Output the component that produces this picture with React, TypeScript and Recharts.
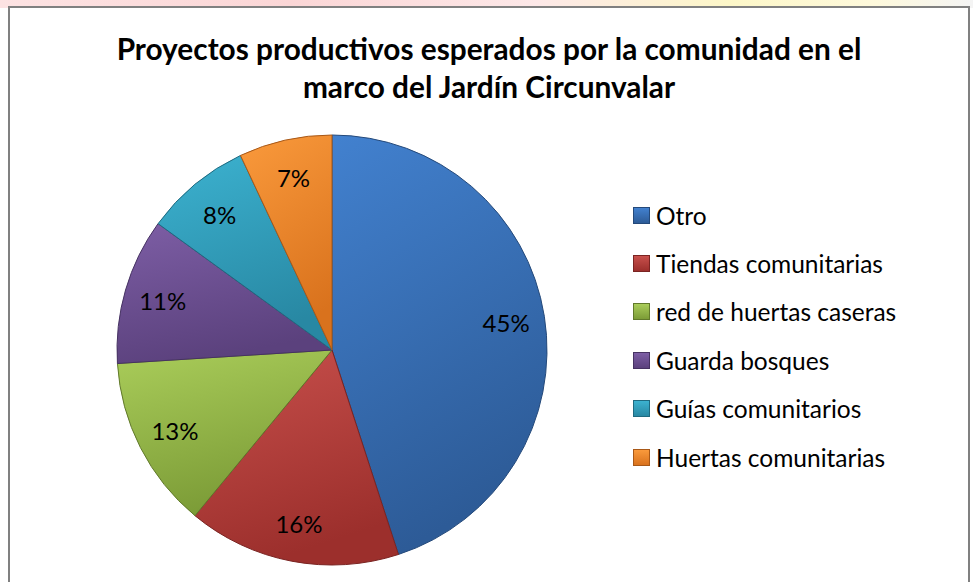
import React from "react";
import { PieChart, Pie, Cell, Legend } from "recharts";

const CATEGORIES = [
  "Otro",
  "Tiendas comunitarias",
  "red de huertas caseras",
  "Guarda bosques",
  "Guías comunitarios",
  "Huertas comunitarias",
];
const VALUES = [45, 16, 13, 11, 8, 7];

const TITLE_LINES = [
  "Proyectos productivos esperados por la comunidad en el",
  "marco del Jardín Circunvalar",
];

// [light, dark, stroke]
const COLORS = [
  ["#4281cf", "#2d5b97", "#24497a"],
  ["#c8504c", "#9c2f2c", "#7a2422"],
  ["#aacd5a", "#7c9c37", "#61792b"],
  ["#7d5ea5", "#5b417d", "#463262"],
  ["#3cb2d0", "#2888a3", "#1f6a80"],
  ["#fa9a3c", "#d9721d", "#a85817"],
];

const FONT = "Lato, 'Open Sans', sans-serif";

const data = CATEGORIES.map((name, i) => ({ name, value: VALUES[i] }));

const RADIAN = Math.PI / 180;

function renderLabel(props: any) {
  const { cx, cy, midAngle, outerRadius, percent } = props;
  const r = outerRadius * 0.82;
  const x = cx + r * Math.cos(-midAngle * RADIAN);
  const y = cy + r * Math.sin(-midAngle * RADIAN);
  return (
    <text
      x={x}
      y={y}
      textAnchor="middle"
      dominantBaseline="central"
      fill="#000"
      fontFamily={FONT}
      fontSize={24}
    >
      {`${Math.round(percent * 100)}%`}
    </text>
  );
}

function LegendContent() {
  return (
    <div style={{ fontFamily: FONT, fontSize: 24.5, color: "#000" }}>
      {CATEGORIES.map((name, i) => (
        <div
          key={name}
          style={{ display: "flex", alignItems: "center", height: 48.4 }}
        >
          <span
            style={{
              width: 15,
              height: 15,
              marginRight: 6,
              border: `1px solid ${COLORS[i][2]}`,
              background: `linear-gradient(${COLORS[i][0]}, ${COLORS[i][1]})`,
            }}
          />
          <span>{name}</span>
        </div>
      ))}
    </div>
  );
}

export default function App() {
  return (
    <div
      style={{
        position: "absolute",
        left: 0,
        top: 0,
        width: 973,
        height: 582,
        background: "#fff",
        overflow: "hidden",
      }}
    >
      <div
        style={{
          position: "absolute",
          left: 0,
          top: 0,
          width: 973,
          height: 8,
          background:
            "linear-gradient(90deg, #fde3e3 0%, #fbd6d6 30%, #fde8e8 55%, #fdf7c8 75%, #fef9dc 90%, #f4f4f4 100%)",
        }}
      />
      <div
        style={{
          position: "absolute",
          left: 8,
          top: 6,
          width: 958,
          height: 576,
          borderLeft: "2px solid #808080",
          borderTop: "2px solid #808080",
          borderRight: "2px solid #808080",
          borderBottom: "2px solid #d0d0d0",
          background: "#fff",
        }}
      />
      <div
        style={{
          position: "absolute",
          left: 9,
          top: 30,
          width: 960,
          textAlign: "center",
          fontFamily: FONT,
          fontWeight: 700,
          fontSize: 29.8,
          lineHeight: "38px",
          color: "#000",
        }}
      >
        {TITLE_LINES.map((l) => (
          <div key={l}>{l}</div>
        ))}
      </div>
      <div style={{ position: "absolute", left: 0, top: 0 }}>
        <PieChart width={973} height={582} margin={{ top: 0, right: 0, bottom: 0, left: 0 }}>
          <defs>
            {COLORS.map((c, i) => (
              <linearGradient key={i} id={`g${i}`} x1="0" y1="0" x2="0.3" y2="1">
                <stop offset="0%" stopColor={c[0]} />
                <stop offset="100%" stopColor={c[1]} />
              </linearGradient>
            ))}
          </defs>
          <Pie
            data={data}
            dataKey="value"
            nameKey="name"
            cx={332}
            cy={350}
            outerRadius={215}
            startAngle={90}
            endAngle={-270}
            label={renderLabel}
            labelLine={false}
            isAnimationActive={false}
          >
            {data.map((d, i) => (
              <Cell key={d.name} fill={`url(#g${i})`} stroke={COLORS[i][2]} strokeWidth={1} />
            ))}
          </Pie>
          <Legend
            layout="vertical"
            content={<LegendContent />}
            wrapperStyle={{ left: 633, top: 191, width: 330 }}
          />
        </PieChart>
      </div>
    </div>
  );
}
